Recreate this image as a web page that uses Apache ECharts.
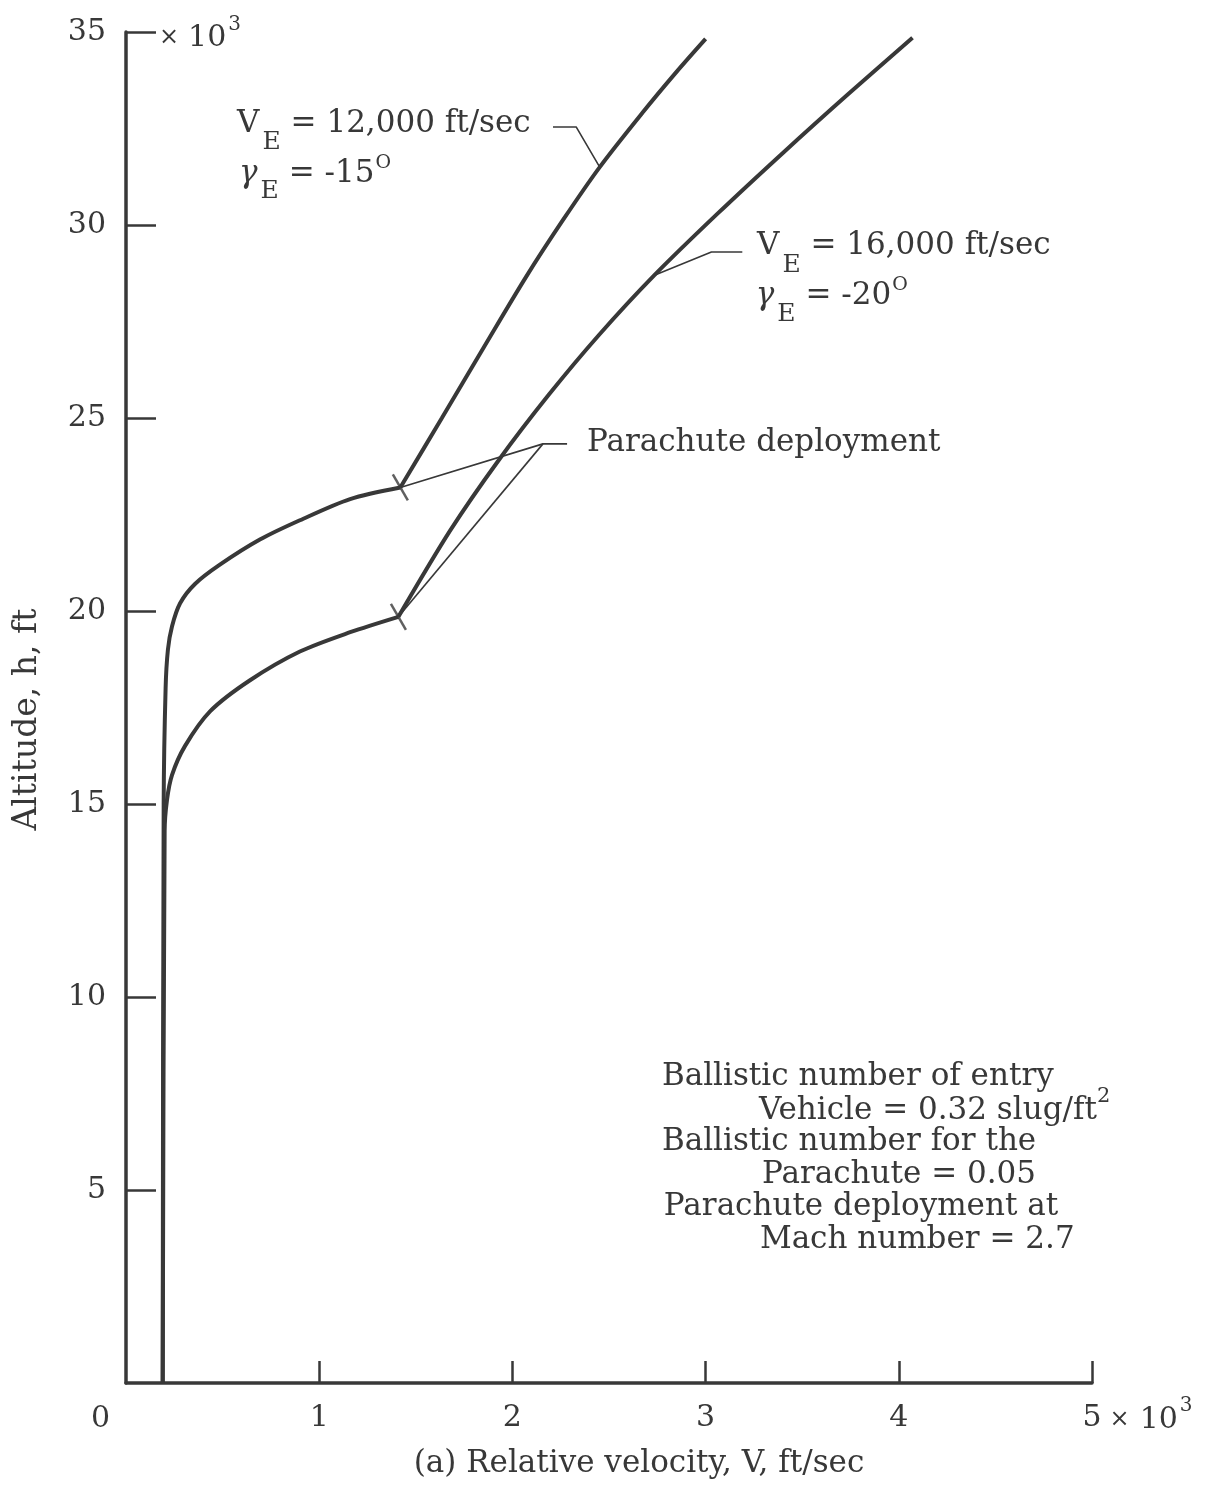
<!DOCTYPE html>
<html>
<head>
<meta charset="utf-8">
<script src="https://cdn.jsdelivr.net/npm/echarts@6/dist/echarts.min.js"></script>
<style>
html,body{margin:0;padding:0;background:#ffffff;}
#chart{width:1214px;height:1487px;}
</style>
</head>
<body>
<div id="chart"></div>
<script>
// ---- data (V in 10^3 ft/sec, h in 10^3 ft) ----
const xTickValues = [1, 2, 3, 4, 5];
const yTickValues = [5, 10, 15, 20, 25, 30, 35];

// V_E = 12,000 ft/sec, gamma_E = -15 deg
const entryA_V = [1.42, 1.635, 1.853, 2.07, 2.262, 2.452, 2.672, 2.845, 3.00];
const entryA_H = [23.2, 25.0, 26.84, 28.65, 30.13, 31.5, 32.9, 33.94, 34.82];
const chuteA_V = [1.42, 1.16, 0.90, 0.693, 0.486, 0.357, 0.28, 0.238, 0.217, 0.205, 0.195, 0.19];
const chuteA_H = [23.2, 22.9, 22.35, 21.85, 21.2, 20.7, 20.2, 19.6, 19.0, 18.0, 15.0, 0];

// V_E = 16,000 ft/sec, gamma_E = -20 deg
const entryB_V = [1.41, 1.68, 1.928, 2.188, 2.448, 2.735, 3.063, 3.407, 3.74, 4.071];
const entryB_H = [19.85, 22.1, 23.9, 25.6, 27.15, 28.7, 30.3, 31.9, 33.4, 34.85];
const chuteB_V = [1.41, 1.16, 0.90, 0.64, 0.435, 0.305, 0.238, 0.212, 0.20, 0.19];
const chuteB_H = [19.85, 19.45, 18.95, 18.2, 17.4, 16.5, 15.75, 15.1, 14.3, 0];

// parachute deployment points
const deployV = [1.42, 1.41];
const deployH = [23.2, 19.85];

// annotation leader lines (data coordinates)
const leaderA = [[2.21, 32.54], [2.33, 32.54], [2.452, 31.5]];
const leaderB = [[3.19, 29.3], [3.03, 29.3], [2.735, 28.7]];
const leaderChute1 = [[2.283, 24.33], [2.158, 24.33], [1.42, 23.2]];
const leaderChute2 = [[2.158, 24.33], [1.41, 19.85]];

const INK = '#383838';
const FONT = '"DejaVu Serif", "Liberation Serif", serif';

const pairs = (xs, ys) => xs.map((v, i) => [v, ys[i]]);

const chart = echarts.init(document.getElementById('chart'), null, {renderer: 'canvas'});

const curveStyle = {color: INK, width: 4};
const leaderStyle = {color: INK, width: 1.6};

function curve(name, data) {
  return {name, type: 'line', data, showSymbol: false, smooth: 0.3, smoothMonotone: null,
          lineStyle: curveStyle, z: 5, silent: true};
}
function leader(data) {
  return {type: 'line', data, showSymbol: false, smooth: false, lineStyle: leaderStyle, z: 3, silent: true};
}

const option = {
  animation: false,
  backgroundColor: '#ffffff',
  grid: {left: 126, right: 122, top: 32, bottom: 104},
  xAxis: {
    type: 'value', min: 0, max: 5, interval: 1,
    name: '(a) Relative velocity, V, ft/sec',
    nameLocation: 'middle', nameGap: 65,
    nameTextStyle: {fontFamily: FONT, fontSize: 31, color: INK, padding: [0, 0, 0, 60]},
    axisLine: {show: true, onZero: false, lineStyle: {color: INK, width: 3.5}},
    axisTick: {show: true, inside: true, length: 22, customValues: xTickValues,
               lineStyle: {color: INK, width: 2.5}},
    axisLabel: {show: true, customValues: xTickValues, margin: 20,
                fontFamily: FONT, fontSize: 30, color: INK},
    splitLine: {show: false}
  },
  yAxis: {
    type: 'value', min: 0, max: 35, interval: 5,
    name: 'Altitude, h, ft',
    nameLocation: 'middle', nameGap: 82,
    nameTextStyle: {fontFamily: FONT, fontSize: 33, color: INK, padding: [0, 24, 0, 0]},
    axisLine: {show: true, onZero: false, lineStyle: {color: INK, width: 3.5}},
    axisTick: {show: true, inside: true, length: 30, customValues: yTickValues,
               lineStyle: {color: INK, width: 2.5}},
    axisLabel: {show: true, customValues: yTickValues, margin: 20,
                fontFamily: FONT, fontSize: 30, color: INK},
    splitLine: {show: false}
  },
  series: [
    curve('V_E = 12,000 ft/sec entry', pairs(entryA_V, entryA_H)),
    curve('V_E = 12,000 ft/sec parachute', pairs(chuteA_V, chuteA_H)),
    curve('V_E = 16,000 ft/sec entry', pairs(entryB_V, entryB_H)),
    curve('V_E = 16,000 ft/sec parachute', pairs(chuteB_V, chuteB_H)),
    {
      name: 'Parachute deployment', type: 'scatter', data: pairs(deployV, deployH),
      symbol: 'rect', symbolSize: [2.5, 30], symbolRotate: 30,
      itemStyle: {color: INK}, z: 6, silent: true
    },
    leader(leaderA), leader(leaderB), leader(leaderChute1), leader(leaderChute2)
  ]
};
chart.setOption(option);

// ---- text annotations (real text), positioned via the chart's own scales ----
const mctx = document.createElement('canvas').getContext('2d');
function tw(t, size, italic) { mctx.font = (italic ? 'italic ' : '') + size + 'px ' + FONT; return mctx.measureText(t).width; }
// parts: [text, fontSize, dy, gapBefore, italic]
function textLine(px, py, parts) {
  let cx = px; const els = [];
  for (const [t, size, dy, gap, italic] of parts) {
    cx += (gap || 0);
    els.push({type: 'text', x: cx, y: py + dy, silent: true,
      style: {text: t, fontFamily: FONT, fontSize: size, fontStyle: italic ? 'italic' : 'normal',
              fill: INK, align: 'left', verticalAlign: 'middle'}});
    cx += tw(t, size, italic);
  }
  return els;
}
const toPx = (v, h) => chart.convertToPixel({gridIndex: 0}, [v, h]);

// annotation anchors: [V, h] of left edge / vertical centre of each text line
const annotations = [
  {at: [0.575, 32.62], parts: [['V', 31, 0], ['E', 25, 19, 3], [' = 12,000 ft/sec', 31, 0]]},
  {at: [0.585, 31.33], parts: [['\u03B3', 31, 0, 0, true], ['E', 25, 18, 3], [' = -15', 31, 0], ['O', 19, -11, 1]]},
  {at: [3.266, 29.45], parts: [['V', 31, 0], ['E', 25, 19, 3], [' = 16,000 ft/sec', 31, 0]]},
  {at: [3.260, 28.15], parts: [['\u03B3', 31, 0, 0, true], ['E', 25, 18, 3], [' = -20', 31, 0], ['O', 19, -11, 1]]},
  {at: [2.386, 24.35], parts: [['Parachute deployment', 31, 0]]},
  {at: [2.774, 7.92], parts: [['Ballistic number of entry', 31, 0]]},
  {at: [3.276, 7.04], parts: [['Vehicle = 0.32 slug/ft', 31, 0], ['2', 21, -15]]},
  {at: [2.774, 6.24], parts: [['Ballistic number for the', 31, 0]]},
  {at: [3.292, 5.39], parts: [['Parachute = 0.05', 31, 0]]},
  {at: [2.784, 4.56], parts: [['Parachute deployment at', 31, 0]]},
  {at: [3.281, 3.71], parts: [['Mach number = 2.7', 31, 0]]}
];

const graphics = [];
for (const a of annotations) {
  const p = toPx(a.at[0], a.at[1]);
  graphics.push(...textLine(p[0], p[1], a.parts));
}
// corner "0" label and the "x 10^3" multipliers
const origin = toPx(0, 0);
graphics.push(...textLine(origin[0] - 35, origin[1] + 36, [['0', 30, 0]]));
const top35 = toPx(0, 35);
graphics.push(...textLine(top35[0] + 33, top35[1] + 6,
  [['\u00D7', 24, 0], ['10', 30, 0, 9], ['3', 20, -13, 2]]));
const x5 = toPx(5, 0);
graphics.push(...textLine(x5[0] + tw('5', 30) / 2 + 8, x5[1] + 37,
  [['\u00D7', 24, 0], ['10', 30, 0, 10], ['3', 20, -14, 2]]));

chart.setOption({graphic: {elements: graphics}});
</script>
</body>
</html>
